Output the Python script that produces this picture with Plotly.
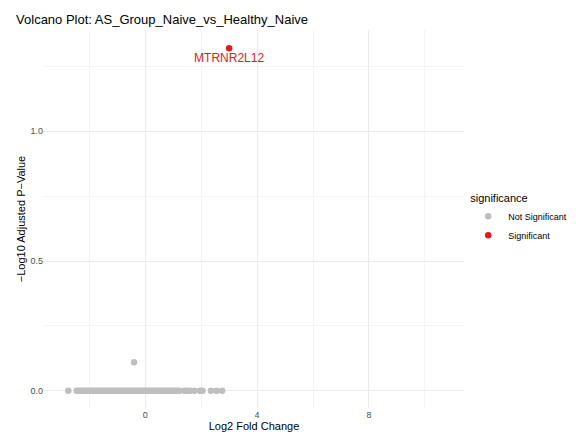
import plotly.graph_objects as go

# not significant genes (log2FC, -log10 padj)
ns_x = [-2.75, -2.45, -2.38, -2.3, -2.22, -2.15, -2.08, -2.0, -1.92, -1.85, -1.78, -1.7,
        -1.62, -1.55, -1.48, -1.4, -1.32, -1.25, -1.18, -1.1, -1.02, -0.95, -0.88, -0.8,
        -0.72, -0.65, -0.58, -0.5, -0.42, -0.35, -0.28, -0.2, -0.12, -0.05, 0.02, 0.1,
        0.18, 0.25, 0.32, 0.4, 0.48, 0.55, 0.62, 0.7, 0.78, 0.85, 0.92, 1.0, 1.08, 1.15,
        1.22, 1.4, 1.5, 1.6, 1.75, 1.95, 2.05, 2.35, 2.55, 2.75, -0.4]
ns_y = [0.0] * 60 + [0.11]

# significant gene
sig_x = [3.0]
sig_y = [1.32]
sig_label = ["MTRNR2L12"]

fig = go.Figure()
fig.add_trace(go.Scatter(x=ns_x, y=ns_y, mode="markers", name="Not Significant",
                         marker=dict(color="#bebebe", size=6.5)))
fig.add_trace(go.Scatter(x=sig_x, y=sig_y, mode="markers+text", name="Significant",
                         text=sig_label, textposition="bottom center",
                         textfont=dict(color="#e41a1c", size=12),
                         marker=dict(color="#e41a1c", size=6.5)))

fig.update_layout(
    width=576, height=432,
    margin=dict(l=36, r=108, t=22, b=32),
    plot_bgcolor="white", paper_bgcolor="white",
    font=dict(family="Liberation Sans, Arial", color="#4d4d4d", size=9),
    title=dict(text="Volcano Plot: AS_Group_Naive_vs_Healthy_Naive", x=0.014, xanchor="left",
               y=0.985, yanchor="top", font=dict(size=13, color="black")),
    legend=dict(title=dict(text="significance", font=dict(size=11, color="black")),
                x=1.01, xanchor="left", y=0.5, yanchor="middle",
                font=dict(size=9, color="black")),
)
fig.update_xaxes(range=[-3.62, 11.4], tickvals=[0, 4, 8], ticktext=["0", "4", "8"],
                 showgrid=True, gridcolor="#ebebeb", zeroline=False, ticks="", automargin=False,
                 minor=dict(tickvals=[-2, 2, 6, 10], showgrid=True, gridcolor="#f4f4f4"),
                 title=dict(text="Log2 Fold Change", font=dict(size=11, color="black"), standoff=2))
fig.update_yaxes(range=[-0.066, 1.39], tickvals=[0, 0.5, 1.0], ticktext=["0.0", "0.5", "1.0"],
                 showgrid=True, gridcolor="#ebebeb", zeroline=False, ticks="", automargin=False,
                 minor=dict(tickvals=[0.25, 0.75, 1.25], showgrid=True, gridcolor="#f4f4f4"),
                 title=dict(text="\u2212Log10 Adjusted P\u2212Value", font=dict(size=11, color="black"), standoff=2))

fig.write_html("out.html")
